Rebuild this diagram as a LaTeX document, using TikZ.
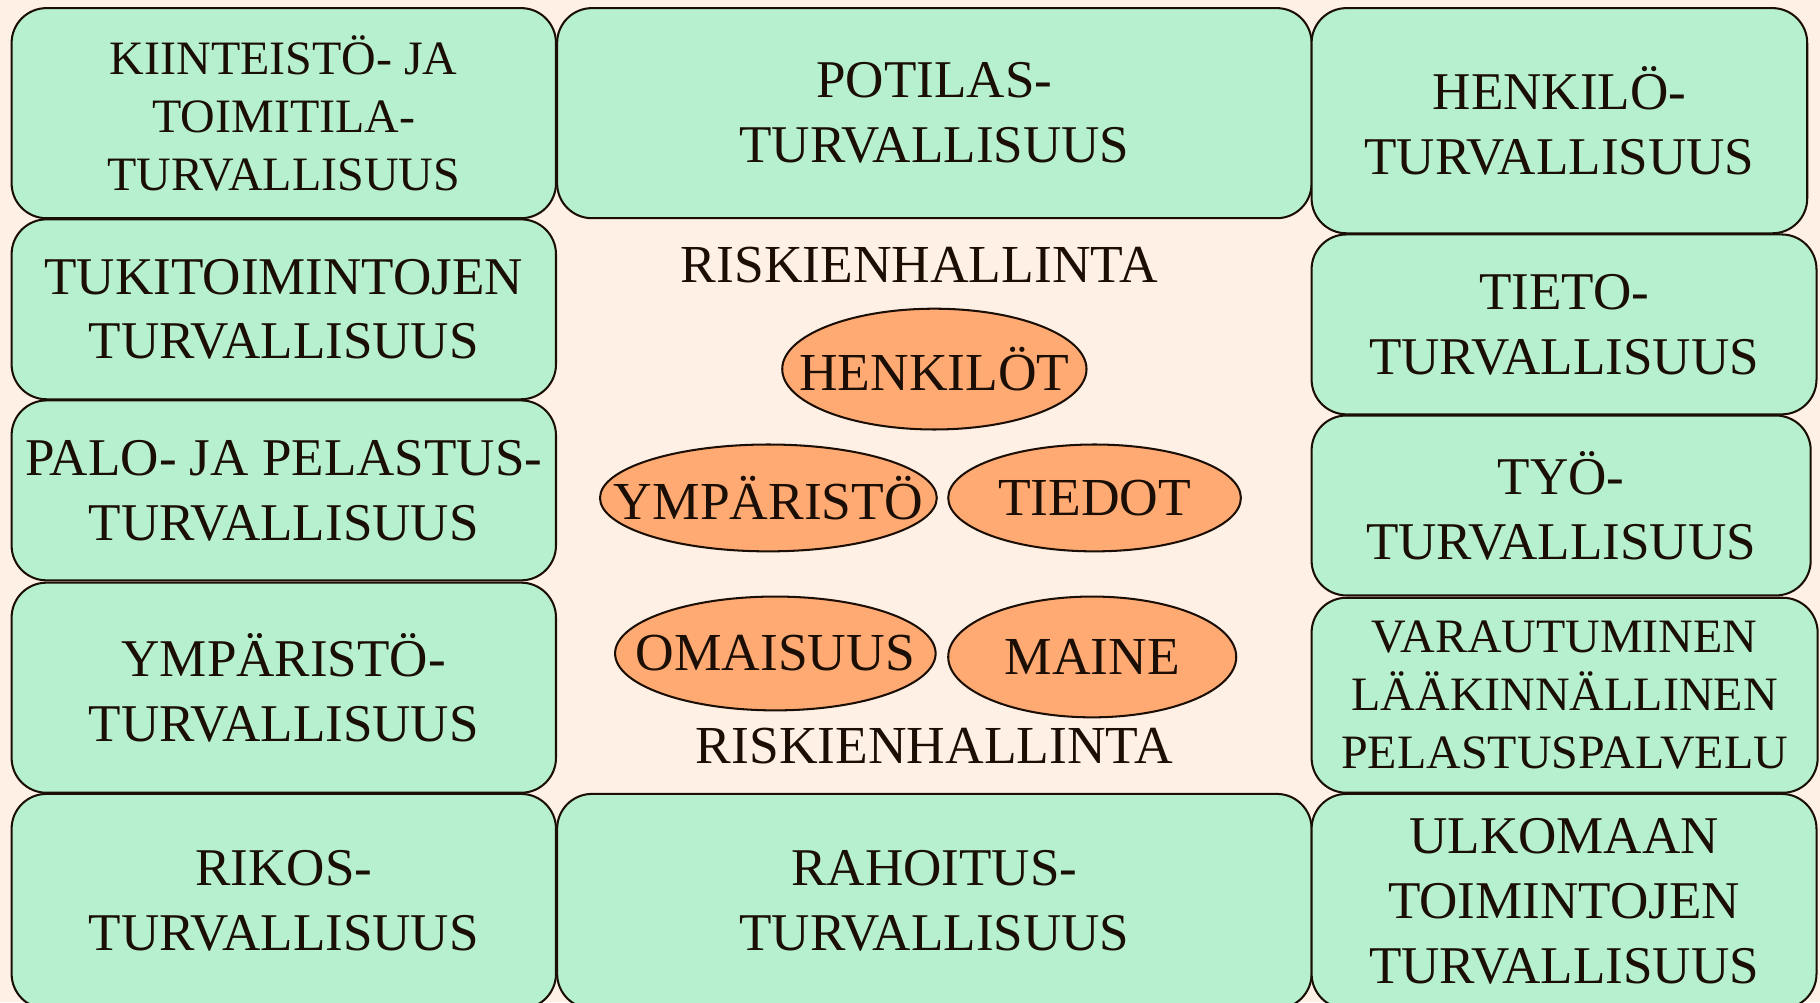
\documentclass[tikz,border=0pt]{standalone}
\usepackage{fontspec}
\setmainfont{Liberation Serif}
\usetikzlibrary{shapes.geometric}
\definecolor{bg}{RGB}{255,240,230}
\definecolor{boxfill}{RGB}{182,240,206}
\definecolor{ellfill}{RGB}{255,170,115}
\definecolor{ink}{RGB}{26,14,5}
\tikzset{
 tbox/.style={draw=ink, fill=boxfill, rounded corners=0.3cm, line width=0.5pt, inner sep=0pt, align=center, text=ink, font=\fontsize{13.0}{15.9}\selectfont},
 sbox/.style={tbox, font=\fontsize{11.75}{14.2}\selectfont},
 oval/.style={draw=ink, fill=ellfill, line width=0.5pt},
 lbl/.style={text=ink, font=\fontsize{13.1}{15}\selectfont, inner sep=0pt}
}
\newcommand{\bx}[7]{\node[#1, minimum width={(#4-#2)*0.01cm}, minimum height={(#5-#3)*0.01cm}] (#6) at ({(#2+#4)/2},{(#3+#5)/2}) {#7};}
\newcommand{\ov}[6]{\path[oval] (#2,#3) ellipse [x radius=#4cm, y radius=#5cm]; \node[lbl] (#1) at (#2,#3) {#6};}
\begin{document}
\begin{tikzpicture}[x=0.01cm, y=-0.01cm]
\useasboundingbox (0,0) rectangle (1568,863.3);
\fill[bg] (0,0) rectangle (1568,863.3);
\clip (0,0) rectangle (1568,863.3);
% left column
\bx{sbox}{10}{7}{479}{188}{l1}{KIINTEISTÖ- JA\\TOIMITILA-\\TURVALLISUUS}
\bx{tbox}{10}{189}{479}{344}{l2}{TUKITOIMINTOJEN\\TURVALLISUUS}
\bx{tbox}{10}{345}{479}{500}{l3}{PALO- JA PELASTUS-\\TURVALLISUUS}
\bx{tbox}{10}{502}{479}{683}{l4}{YMPÄRISTÖ-\\TURVALLISUUS}
\bx{tbox}{10}{684}{479}{869}{l5}{RIKOS-\\TURVALLISUUS}
% middle column
\bx{tbox}{480}{7}{1130}{188}{m1}{POTILAS-\\TURVALLISUUS}
\bx{tbox}{480}{684}{1130}{869}{m2}{RAHOITUS-\\TURVALLISUUS}
% right column
\bx{tbox}{1130}{7}{1557}{201}{r1}{HENKILÖ-\\TURVALLISUUS}
\bx{tbox}{1130}{202}{1565}{357}{r2}{TIETO-\\TURVALLISUUS}
\bx{tbox}{1130}{358}{1560}{513}{r3}{TYÖ-\\TURVALLISUUS}
\bx{sbox}{1130}{515}{1566}{683}{r4}{VARAUTUMINEN\\LÄÄKINNÄLLINEN\\PELASTUSPALVELU}
\bx{tbox}{1130}{684}{1565}{869}{r5}{ULKOMAAN\\TOIMINTOJEN\\TURVALLISUUS}
% centre
\node[lbl] (rh1) at (792,228) {RISKIENHALLINTA};
\node[lbl] (rh2) at (805,643) {RISKIENHALLINTA};
\ov{henkilot}{805}{318}{1.31}{0.52}{HENKILÖT}
\ov{ymparisto}{662}{429}{1.45}{0.46}{YMPÄRISTÖ}
\ov{tiedot}{943}{429}{1.26}{0.46}{TIEDOT}
\ov{omaisuus}{668}{563}{1.38}{0.49}{OMAISUUS}
\ov{maine}{941}{566}{1.24}{0.52}{MAINE}
\end{tikzpicture}
\end{document}
